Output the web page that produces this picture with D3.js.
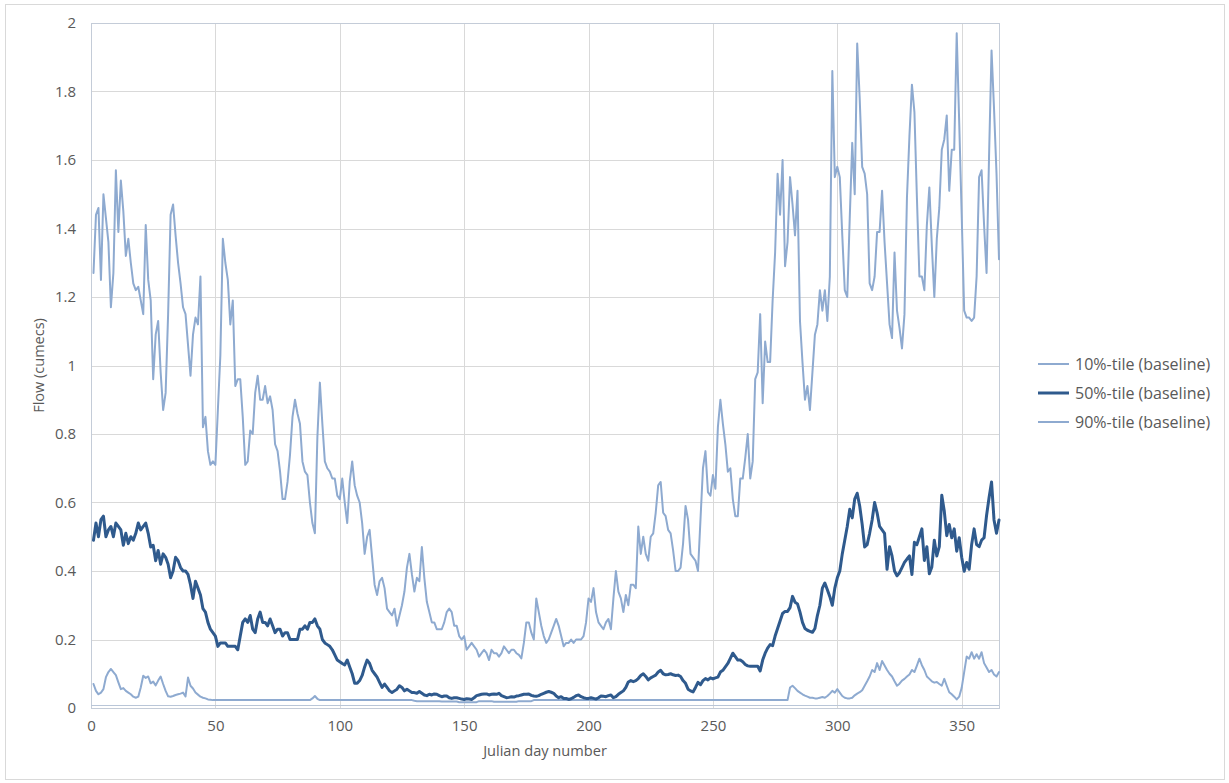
<!DOCTYPE html>
<html>
<head>
<meta charset="utf-8">
<script src="https://cdn.jsdelivr.net/npm/d3@7/dist/d3.min.js"></script>
<style>
  html, body { margin: 0; padding: 0; background: #ffffff; }
  svg { display: block; }
  text { font-family: "Open Sans", "Liberation Sans", sans-serif; fill: #595959; }
</style>
</head>
<body>
<svg id="chart" width="1229" height="783"></svg>
<script>
// ---------------- DATA ----------------
const xTicks = [0, 50, 100, 150, 200, 250, 300, 350];
const yTicks = [0, 0.2, 0.4, 0.6, 0.8, 1, 1.2, 1.4, 1.6, 1.8, 2];
const yTickLabels = ["0", "0.2", "0.4", "0.6", "0.8", "1", "1.2", "1.4", "1.6", "1.8", "2"];
const seriesNames = ["10%-tile (baseline)", "50%-tile (baseline)", "90%-tile (baseline)"];
const xTitle = "Julian day number";
const yTitle = "Flow (cumecs)";

// Julian days 1..365
const days = d3.range(1, 366);

const p90 = [
  1.27,1.44,1.46,1.25,1.50,1.43,1.36,1.17,1.27,1.57,
  1.39,1.54,1.45,1.32,1.37,1.30,1.24,1.22,1.23,1.19,
  1.15,1.41,1.25,1.19,0.96,1.09,1.13,0.98,0.87,0.92,
  1.15,1.44,1.47,1.38,1.30,1.24,1.17,1.15,1.06,0.97,
  1.09,1.14,1.12,1.26,0.82,0.85,0.75,0.71,0.72,0.71,
  0.87,1.03,1.37,1.30,1.25,1.12,1.19,0.94,0.96,0.96,
  0.85,0.71,0.72,0.81,0.80,0.92,0.97,0.90,0.90,0.94,
  0.89,0.91,0.87,0.77,0.75,0.69,0.61,0.61,0.66,0.74,
  0.85,0.90,0.86,0.83,0.72,0.69,0.68,0.60,0.54,0.51,
  0.79,0.95,0.83,0.72,0.70,0.69,0.67,0.67,0.62,0.61,
  0.67,0.60,0.54,0.66,0.72,0.65,0.62,0.60,0.54,0.45,
  0.50,0.52,0.44,0.36,0.33,0.37,0.38,0.35,0.29,0.28,
  0.27,0.29,0.24,0.27,0.30,0.34,0.41,0.45,0.39,0.34,
  0.38,0.37,0.47,0.38,0.31,0.28,0.25,0.25,0.23,0.23,
  0.23,0.25,0.28,0.29,0.28,0.24,0.24,0.21,0.20,0.21,
  0.17,0.18,0.19,0.18,0.17,0.15,0.16,0.17,0.16,0.14,
  0.17,0.16,0.16,0.15,0.16,0.18,0.17,0.16,0.17,0.17,
  0.16,0.155,0.145,0.19,0.25,0.25,0.22,0.20,0.32,0.28,
  0.24,0.21,0.19,0.20,0.22,0.24,0.26,0.24,0.21,0.18,
  0.19,0.19,0.20,0.19,0.20,0.20,0.20,0.21,0.25,0.32,
  0.31,0.35,0.28,0.25,0.24,0.23,0.25,0.26,0.23,0.32,
  0.40,0.34,0.32,0.28,0.33,0.30,0.36,0.36,0.35,0.53,
  0.45,0.50,0.45,0.43,0.50,0.51,0.57,0.65,0.66,0.57,
  0.56,0.52,0.51,0.46,0.40,0.40,0.41,0.48,0.59,0.55,
  0.45,0.44,0.43,0.40,0.55,0.70,0.75,0.63,0.62,0.68,
  0.64,0.82,0.90,0.83,0.77,0.69,0.70,0.61,0.56,0.56,
  0.67,0.67,0.73,0.80,0.67,0.72,0.96,0.98,1.15,0.89,
  1.07,1.01,1.01,1.19,1.33,1.56,1.44,1.60,1.29,1.36,
  1.55,1.47,1.38,1.51,1.13,1.01,0.90,0.94,0.87,0.98,
  1.09,1.12,1.22,1.16,1.22,1.13,1.26,1.86,1.55,1.58,
  1.55,1.38,1.22,1.20,1.43,1.65,1.50,1.94,1.78,1.58,
  1.56,1.50,1.24,1.22,1.26,1.39,1.39,1.51,1.36,1.24,
  1.12,1.08,1.33,1.16,1.11,1.05,1.15,1.49,1.67,1.82,
  1.74,1.49,1.26,1.26,1.22,1.41,1.52,1.35,1.20,1.37,
  1.46,1.63,1.66,1.73,1.51,1.63,1.63,1.97,1.71,1.44,
  1.16,1.14,1.14,1.13,1.14,1.26,1.55,1.57,1.41,1.27,
  1.61,1.92,1.75,1.56,1.31
];

const p50 = [
  0.49,0.54,0.50,0.55,0.56,0.50,0.52,0.53,0.50,0.54,
  0.53,0.52,0.475,0.51,0.48,0.50,0.49,0.51,0.54,0.52,
  0.53,0.54,0.51,0.47,0.475,0.43,0.46,0.42,0.45,0.44,
  0.42,0.38,0.40,0.44,0.43,0.41,0.40,0.40,0.39,0.36,
  0.32,0.37,0.35,0.33,0.29,0.28,0.25,0.23,0.22,0.21,
  0.18,0.19,0.19,0.19,0.18,0.18,0.18,0.18,0.17,0.21,
  0.25,0.26,0.25,0.27,0.23,0.22,0.26,0.28,0.25,0.25,
  0.24,0.26,0.24,0.22,0.23,0.23,0.21,0.22,0.22,0.20,
  0.20,0.20,0.20,0.23,0.23,0.24,0.23,0.25,0.25,0.26,
  0.24,0.23,0.20,0.19,0.185,0.18,0.17,0.155,0.14,0.135,
  0.13,0.126,0.14,0.12,0.10,0.072,0.072,0.08,0.095,0.12,
  0.14,0.13,0.11,0.10,0.09,0.075,0.06,0.07,0.06,0.05,
  0.045,0.05,0.055,0.065,0.06,0.05,0.055,0.05,0.045,0.045,
  0.043,0.048,0.043,0.038,0.036,0.04,0.038,0.041,0.04,0.036,
  0.033,0.035,0.035,0.03,0.028,0.03,0.03,0.028,0.026,0.025,
  0.027,0.026,0.025,0.03,0.036,0.038,0.04,0.041,0.041,0.038,
  0.04,0.041,0.04,0.043,0.036,0.033,0.03,0.031,0.033,0.032,
  0.035,0.036,0.038,0.04,0.04,0.041,0.037,0.035,0.034,0.036,
  0.04,0.043,0.046,0.048,0.046,0.043,0.035,0.03,0.033,0.028,
  0.028,0.025,0.027,0.031,0.036,0.038,0.033,0.03,0.028,0.028,
  0.03,0.028,0.026,0.03,0.035,0.034,0.033,0.036,0.038,0.03,
  0.033,0.04,0.045,0.05,0.06,0.076,0.08,0.077,0.08,0.086,
  0.095,0.10,0.092,0.082,0.088,0.092,0.096,0.105,0.11,0.10,
  0.097,0.098,0.10,0.097,0.095,0.096,0.092,0.08,0.072,0.055,
  0.05,0.047,0.06,0.075,0.068,0.08,0.086,0.082,0.088,0.085,
  0.088,0.09,0.105,0.11,0.12,0.13,0.145,0.16,0.15,0.14,
  0.14,0.135,0.127,0.123,0.122,0.122,0.122,0.122,0.108,0.14,
  0.16,0.175,0.185,0.182,0.21,0.232,0.254,0.276,0.282,0.282,
  0.293,0.326,0.309,0.304,0.28,0.25,0.232,0.227,0.224,0.221,
  0.232,0.27,0.30,0.35,0.365,0.345,0.325,0.30,0.35,0.38,
  0.40,0.45,0.49,0.53,0.58,0.555,0.61,0.627,0.59,0.536,
  0.47,0.477,0.51,0.549,0.60,0.57,0.53,0.52,0.51,0.405,
  0.471,0.444,0.40,0.386,0.395,0.41,0.425,0.435,0.444,0.39,
  0.484,0.477,0.50,0.523,0.431,0.471,0.392,0.412,0.49,0.444,
  0.471,0.621,0.575,0.503,0.536,0.497,0.523,0.458,0.497,0.44,
  0.399,0.425,0.405,0.477,0.523,0.477,0.471,0.49,0.497,0.562,
  0.614,0.66,0.549,0.51,0.549
];

const p10 = [
  0.07,0.05,0.04,0.045,0.055,0.09,0.105,0.114,0.105,0.096,
  0.075,0.055,0.058,0.05,0.045,0.04,0.033,0.03,0.033,0.06,
  0.094,0.088,0.092,0.072,0.077,0.066,0.08,0.092,0.07,0.05,
  0.034,0.033,0.035,0.038,0.04,0.042,0.045,0.034,0.089,0.065,
  0.057,0.045,0.039,0.033,0.03,0.028,0.025,0.024,0.023,0.023,
  0.023,0.023,0.023,0.023,0.023,0.023,0.023,0.023,0.023,0.023,
  0.023,0.023,0.023,0.023,0.023,0.023,0.023,0.023,0.023,0.023,
  0.023,0.023,0.023,0.023,0.023,0.023,0.023,0.023,0.023,0.023,
  0.023,0.023,0.023,0.023,0.023,0.023,0.023,0.023,0.028,0.035,
  0.027,0.023,0.023,0.023,0.023,0.023,0.023,0.023,0.023,0.023,
  0.023,0.023,0.023,0.023,0.023,0.023,0.023,0.023,0.023,0.023,
  0.023,0.023,0.023,0.023,0.023,0.023,0.023,0.023,0.023,0.023,
  0.023,0.023,0.023,0.023,0.023,0.023,0.023,0.023,0.023,0.021,
  0.02,0.02,0.02,0.02,0.02,0.02,0.02,0.02,0.02,0.02,
  0.019,0.019,0.019,0.019,0.019,0.019,0.019,0.017,0.017,0.017,
  0.017,0.017,0.017,0.017,0.017,0.02,0.02,0.02,0.02,0.02,
  0.02,0.018,0.018,0.018,0.018,0.018,0.018,0.018,0.018,0.018,
  0.018,0.02,0.02,0.02,0.02,0.02,0.02,0.023,0.023,0.023,
  0.023,0.023,0.023,0.023,0.023,0.023,0.023,0.023,0.023,0.023,
  0.023,0.023,0.023,0.023,0.023,0.023,0.023,0.023,0.023,0.023,
  0.023,0.023,0.023,0.023,0.023,0.023,0.023,0.023,0.023,0.023,
  0.023,0.023,0.023,0.023,0.023,0.023,0.023,0.023,0.023,0.023,
  0.023,0.023,0.023,0.023,0.023,0.023,0.023,0.023,0.023,0.023,
  0.023,0.023,0.023,0.023,0.023,0.023,0.023,0.023,0.023,0.023,
  0.023,0.023,0.023,0.023,0.023,0.023,0.023,0.023,0.023,0.023,
  0.023,0.023,0.023,0.023,0.023,0.023,0.023,0.023,0.023,0.023,
  0.023,0.023,0.023,0.023,0.023,0.023,0.023,0.023,0.023,0.023,
  0.023,0.023,0.023,0.023,0.023,0.023,0.023,0.023,0.023,0.023,
  0.06,0.065,0.058,0.05,0.045,0.04,0.036,0.033,0.03,0.03,
  0.028,0.028,0.03,0.032,0.03,0.035,0.042,0.05,0.045,0.055,
  0.045,0.035,0.03,0.028,0.028,0.03,0.037,0.042,0.046,0.052,
  0.065,0.078,0.092,0.111,0.105,0.131,0.111,0.137,0.124,0.111,
  0.1,0.092,0.078,0.065,0.071,0.08,0.085,0.092,0.098,0.111,
  0.105,0.124,0.144,0.125,0.111,0.092,0.085,0.078,0.074,0.076,
  0.07,0.065,0.085,0.065,0.046,0.04,0.033,0.025,0.033,0.059,
  0.105,0.15,0.144,0.163,0.144,0.157,0.144,0.163,0.131,0.118,
  0.105,0.111,0.098,0.092,0.105
];

// ---------------- CHART ----------------
const W = 1229, H = 783;
const plot = { left: 91, right: 999, top: 23, bottom: 708 };
const lightColor = "#8eaad0";
const darkColor = "#2f5a8d";
const gridColor = "#d9d9d9";

const svg = d3.select("#chart");
svg.append("rect").attr("x", 0).attr("y", 0).attr("width", W).attr("height", H).attr("fill", "#fff");
svg.append("rect").attr("x", 5.5).attr("y", 4.5).attr("width", 1219).attr("height", 775)
  .attr("fill", "none").attr("stroke", "#d9d9d9").attr("stroke-width", 1);

const x = d3.scaleLinear().domain([0, 365]).range([plot.left, plot.right]);
const y = d3.scaleLinear().domain([0, 2]).range([plot.bottom, plot.top]);

// gridlines
svg.append("g").selectAll("line").data(yTicks).join("line")
  .attr("x1", plot.left).attr("x2", plot.right)
  .attr("y1", d => Math.round(y(d)) + 0.5).attr("y2", d => Math.round(y(d)) + 0.5)
  .attr("stroke", gridColor).attr("stroke-width", 1);
svg.append("g").selectAll("line").data(xTicks).join("line")
  .attr("x1", d => Math.round(x(d)) + 0.5).attr("x2", d => Math.round(x(d)) + 0.5)
  .attr("y1", plot.top).attr("y2", plot.bottom)
  .attr("stroke", gridColor).attr("stroke-width", 1);

// plot frame
svg.append("rect").attr("x", plot.left + 0.5).attr("y", plot.top + 0.5)
  .attr("width", plot.right - plot.left).attr("height", plot.bottom - plot.top)
  .attr("fill", "none").attr("stroke", "#c4ccd8").attr("stroke-width", 1);
// horizontal axis line
svg.append("line").attr("x1", plot.left).attr("x2", plot.right)
  .attr("y1", Math.round(y(0)) - 2.5).attr("y2", Math.round(y(0)) - 2.5)
  .attr("stroke", "#b9c6d8").attr("stroke-width", 1);

// axes (labels only)
const yAxis = d3.axisLeft(y).tickValues(yTicks).tickFormat((d, i) => yTickLabels[i]).tickSize(0).tickPadding(15);
const gy = svg.append("g").attr("transform", `translate(${plot.left},0)`).call(yAxis);
gy.select(".domain").remove();
gy.selectAll("text").attr("font-size", 15).attr("fill", "#595959")
  .attr("font-family", "'Open Sans', sans-serif");

const xAxis = d3.axisBottom(x).tickValues(xTicks).tickFormat(d3.format("d")).tickSize(0).tickPadding(12);
const gx = svg.append("g").attr("transform", `translate(0,${plot.bottom})`).call(xAxis);
gx.select(".domain").remove();
gx.selectAll("text").attr("font-size", 15).attr("fill", "#595959")
  .attr("font-family", "'Open Sans', sans-serif");

// titles
svg.append("text").attr("x", (plot.left + plot.right) / 2).attr("y", 756)
  .attr("text-anchor", "middle").attr("font-size", 14.6).text(xTitle);
svg.append("text").attr("transform", `translate(44,${(plot.top + plot.bottom) / 2}) rotate(-90)`)
  .attr("text-anchor", "middle").attr("font-size", 14.5).text(yTitle);

// series
const series = [
  { name: seriesNames[0], values: p10, color: lightColor, width: 2 },
  { name: seriesNames[1], values: p50, color: darkColor, width: 3 },
  { name: seriesNames[2], values: p90, color: lightColor, width: 2 }
];
const line = d3.line().x((d, i) => x(days[i])).y(d => y(d)).curve(d3.curveLinear);

const order = [2, 0, 1];
order.forEach(k => {
  const s = series[k];
  svg.append("path").datum(s.values).attr("d", line)
    .attr("fill", "none").attr("stroke", s.color).attr("stroke-width", s.width)
    .attr("stroke-linejoin", "round").attr("stroke-linecap", "round");
});

// legend
const legendY = [364, 393, 422];
const lg = svg.append("g");
series.forEach((s, i) => {
  lg.append("line").attr("x1", 1038).attr("x2", 1069)
    .attr("y1", legendY[i]).attr("y2", legendY[i])
    .attr("stroke", s.color).attr("stroke-width", s.width);
  lg.append("text").attr("x", 1075).attr("y", legendY[i] + 5.5)
    .attr("font-size", 16).text(s.name);
});
</script>
</body>
</html>
